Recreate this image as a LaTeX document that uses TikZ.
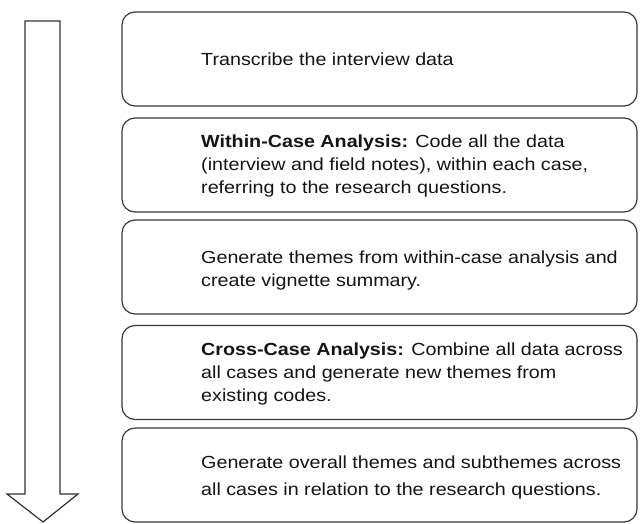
\documentclass[tikz,border=0pt]{standalone}
\usepackage{fontspec}
\setmainfont{Liberation Sans}[FakeStretch=1.127]
\begin{document}
\begin{tikzpicture}[x=1pt,y=-1pt,
  stepbox/.style={draw=black!78,line width=1.2pt,rounded corners=13pt,minimum width=515pt,minimum height=94pt,inner sep=0pt},
  txt/.style={anchor=base west,inner sep=0pt,text=black!92,font=\fontsize{17.5}{23}\selectfont},
  flow/.style={draw=black!80,line width=1.2pt,fill=white,line join=miter}]
\useasboundingbox (0,0) rectangle (640,523);
% flow arrow
\draw[flow] (25,21) -- (60,21) -- (60,494) -- (78,494) -- (43,522) -- (7,494) -- (25,494) -- cycle;
% boxes
\node[stepbox] (b1) at (379.5,59) {};
\node[stepbox] (b2) at (379.5,165) {};
\node[stepbox] (b3) at (379.5,267) {};
\node[stepbox] (b4) at (379.5,372.5) {};
\node[stepbox] (b5) at (379.5,475) {};
% texts
\node[txt] (t1a) at (201,65.5) {Transcribe the interview data};
\node[txt] (t2a) at (201,147) {\textbf{Within-Case Analysis:} Code all the data};
\node[txt] (t2b) at (201,170) {(interview and field notes), within each case,};
\node[txt] (t2c) at (201,193) {referring to the research questions.};
\node[txt] (t3a) at (201,263) {Generate themes from within-case analysis and};
\node[txt] (t3b) at (201,286) {create vignette summary.};
\node[txt] (t4a) at (201,355) {\textbf{Cross-Case Analysis:} Combine all data across};
\node[txt] (t4b) at (201,378) {all cases and generate new themes from};
\node[txt] (t4c) at (201,401) {existing codes.};
\node[txt] (t5a) at (201,468) {Generate overall themes and subthemes across};
\node[txt] (t5b) at (201,495) {all cases in relation to the research questions.};
\end{tikzpicture}
\end{document}
